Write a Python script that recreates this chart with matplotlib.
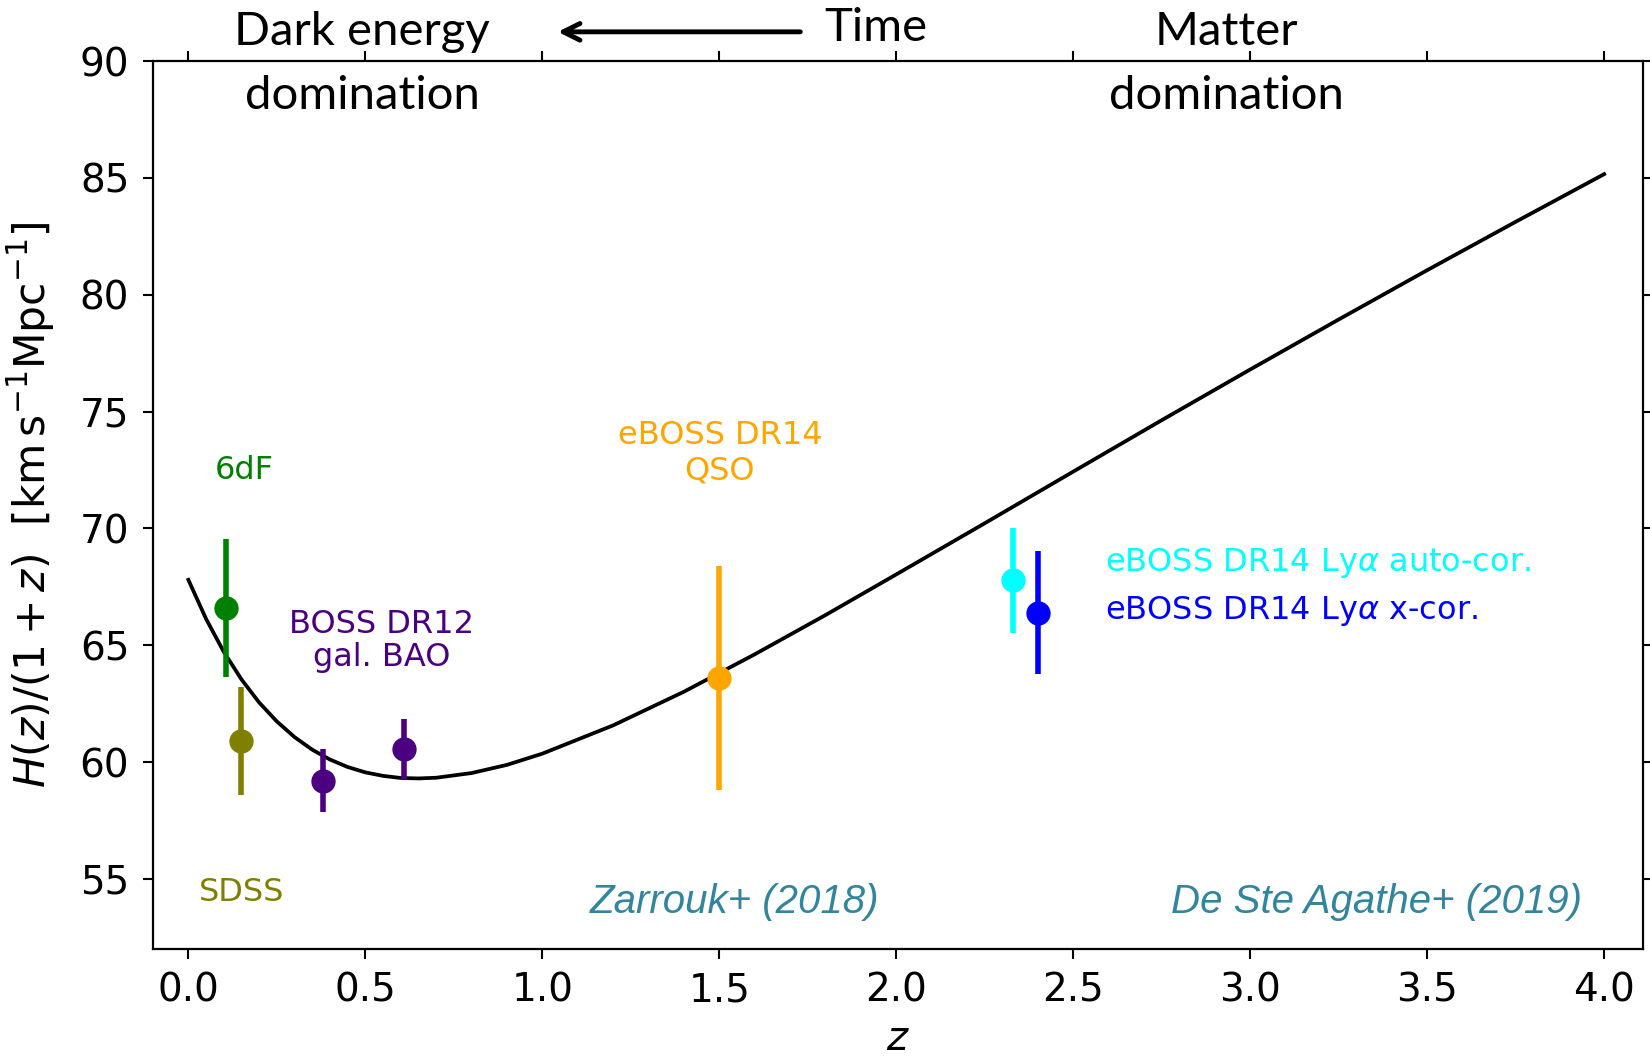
import matplotlib
matplotlib.use("Agg")
import matplotlib.pyplot as plt

# ---- model curve: H(z)/(1+z) ----
model_z = [0.0, 0.05, 0.1, 0.15, 0.2, 0.25, 0.3, 0.35, 0.4, 0.45, 0.5, 0.55, 0.6,
           0.65, 0.7, 0.8, 0.9, 1.0, 1.2, 1.4, 1.6, 1.8, 2.0, 2.25, 2.5, 2.75,
           3.0, 3.25, 3.5, 3.75, 4.0]
model_h = [67.80, 66.13, 64.72, 63.54, 62.55, 61.74, 61.07, 60.53, 60.11, 59.79,
           59.56, 59.41, 59.32, 59.30, 59.33, 59.53, 59.88, 60.36, 61.57, 63.01,
           64.61, 66.29, 68.03, 70.22, 72.43, 74.63, 76.80, 78.94, 81.05, 83.12, 85.16]

# ---- measurements ----
sixdf_z, sixdf_h, sixdf_e = [0.106], [66.6], [2.95]
sdss_z, sdss_h, sdss_e = [0.15], [60.9], [2.3]
boss_z, boss_h, boss_e = [0.38, 0.61], [59.2, 60.55], [1.35, 1.3]
qso_z, qso_h, qso_e = [1.50], [63.6], [4.8]
lya_auto_z, lya_auto_h, lya_auto_e = [2.33], [67.78], [2.24]
lya_x_z, lya_x_h, lya_x_e = [2.40], [66.4], [2.64]

x_ticks = [0.0, 0.5, 1.0, 1.5, 2.0, 2.5, 3.0, 3.5, 4.0]
y_ticks = [55, 60, 65, 70, 75, 80, 85, 90]

fig = plt.figure(figsize=(16.5, 10.58), dpi=100)
ax = fig.add_axes([0.0927, 0.103, 0.9958 - 0.0927, 0.9423 - 0.103])

ax.plot(model_z, model_h, color="black", lw=2.7, zorder=2)

ms = 16.5
elw = 4.0
def pts(z, h, e, c):
    ax.errorbar(z, h, yerr=e, fmt="o", color=c, ms=ms, elinewidth=elw,
                capsize=0, zorder=3)

pts(sixdf_z, sixdf_h, sixdf_e, "green")
pts(sdss_z, sdss_h, sdss_e, "olive")
pts(boss_z, boss_h, boss_e, "indigo")
pts(qso_z, qso_h, qso_e, "orange")
pts(lya_auto_z, lya_auto_h, lya_auto_e, "cyan")
pts(lya_x_z, lya_x_h, lya_x_e, "blue")

ax.set_xlim(-0.1, 4.11)
ax.set_ylim(52, 90)
ax.set_xticks(x_ticks)
ax.set_yticks(y_ticks)
ax.set_xticklabels(["%.1f" % v for v in x_ticks])
ax.set_yticklabels([str(v) for v in y_ticks])
ax.tick_params(axis="both", which="major", direction="out", length=7, width=1.5,
               labelsize=28, top=True, right=True)
ax.tick_params(axis="x", pad=9)
ax.tick_params(axis="y", pad=10)
for s in ax.spines.values():
    s.set_linewidth(1.6)

ax.set_xlabel(r"$z$", fontsize=29, labelpad=7)
ax.set_ylabel(r"$H(z)/(1+z)$  [$\mathrm{km\,s^{-1}Mpc^{-1}}$]", fontsize=30.5, labelpad=16)

fs = 23
ax.text(0.158, 72.47, "6dF", color="green", fontsize=fs, ha="center", va="center")
ax.text(0.545, 65.89, "BOSS DR12", color="indigo", fontsize=fs, ha="center", va="center")
ax.text(0.545, 64.49, "gal. BAO", color="indigo", fontsize=fs, ha="center", va="center")
ax.text(1.502, 73.96, "eBOSS DR14", color="orange", fontsize=fs, ha="center", va="center")
ax.text(1.502, 72.47, "QSO", color="orange", fontsize=fs, ha="center", va="center")
ax.text(2.59, 68.5, r"eBOSS DR14 Ly$\alpha$ auto-cor.", color="cyan", fontsize=fs,
        ha="left", va="center")
ax.text(2.59, 66.47, r"eBOSS DR14 Ly$\alpha$ x-cor.", color="blue", fontsize=fs,
        ha="left", va="center")
ax.text(0.15, 54.43, "SDSS", color="olive", fontsize=fs, ha="center", va="center")

teal = "#31859C"
ax.text(1.544, 54.02, "Zarrouk+ (2018)", color=teal, fontsize=29, style="italic",
        family="Liberation Sans", ha="center", va="center")
ax.text(3.357, 54.02, "De Ste Agathe+ (2019)", color=teal, fontsize=29, style="italic",
        family="Liberation Sans", ha="center", va="center")

# era labels above the axes
tf = dict(fontsize=34, family="Lato", ha="center", va="center", clip_on=False, color="black")
ax.text(0.491, 91.23, "Dark energy", **tf)
ax.text(0.491, 88.52, "domination", **tf)
ax.text(2.932, 91.23, "Matter", **tf)
ax.text(2.932, 88.52, "domination", **tf)
ax.text(1.942, 91.40, "Time", **tf)
ax.annotate("", xy=(1.044, 91.25), xytext=(1.729, 91.25),
            arrowprops=dict(arrowstyle="->", lw=3.5, color="black", mutation_scale=30,
                            shrinkA=0, shrinkB=0),
            annotation_clip=False)

fig.savefig("out.png", dpi=100)
